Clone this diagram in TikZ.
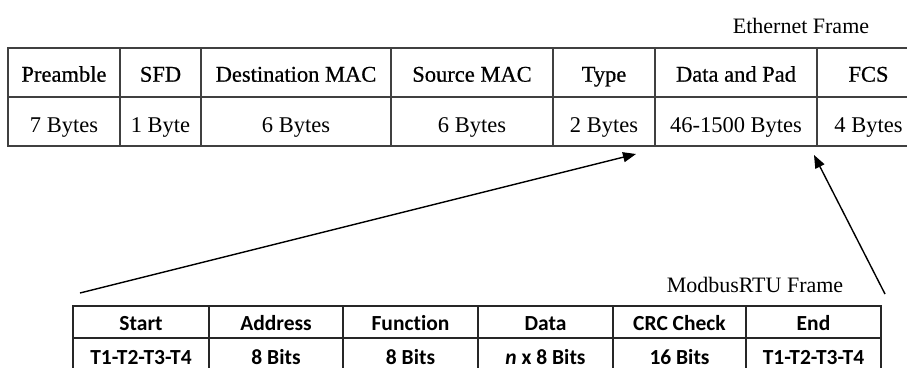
\documentclass[tikz,border=0pt]{standalone}
\usepackage{fontspec}
\setmainfont{Liberation Serif}
\newfontfamily\headfont[FakeBold=0.6]{Liberation Serif}
\newfontfamily\calfont[Ligatures=NoCommon]{Carlito}
\usetikzlibrary{arrows.meta}
\begin{document}
\begin{tikzpicture}[x=1pt,y=-1pt,
  ecell/.style={draw=black!75, line width=1.3pt, minimum height=49pt, inner sep=0pt, outer sep=0pt,
    text depth=0pt},
  ehead/.style={ecell, text height=18.4pt, font=\headfont\fontsize{22.5}{26}\selectfont},
  ebody/.style={ecell, text height=22pt, font=\fontsize{22.5}{26}\selectfont},
  mcell/.style={draw=black!85, line width=1.3pt, minimum height=32pt, inner sep=0pt, outer sep=0pt,
    text depth=0pt, font=\calfont\bfseries\fontsize{21.5}{24}\selectfont},
  mhead/.style={mcell, text height=17.4pt},
  mbody/.style={mcell, text height=20pt},
  lbl/.style={font=\fontsize{22}{26}\selectfont, inner sep=0pt},
  conn/.style={line width=1.4pt, -{Triangle[length=13pt,width=10pt]}}
]
\useasboundingbox (0,0) rectangle (907,367);
\clip (0,0) rectangle (907,367);

% Ethernet frame
\node[lbl] (ethlbl) at (801,26) {Ethernet Frame};
\node[ehead, minimum width=112pt] (pre) at (64,72.5) {Preamble};
\node[ehead, minimum width=81pt] (sfd) at (160.5,72.5) {SFD};
\node[ehead, minimum width=190pt] (dmac) at (296,72.5) {Destination MAC};
\node[ehead, minimum width=162pt] (smac) at (472,72.5) {Source MAC};
\node[ehead, minimum width=102pt] (type) at (604,72.5) {Type};
\node[ehead, minimum width=162pt] (data) at (736,72.5) {Data and Pad};
\node[ehead, minimum width=103pt] (fcs) at (868.5,72.5) {FCS};
\node[ebody, minimum width=112pt] (preb) at (64,121.5) {7 Bytes};
\node[ebody, minimum width=81pt] (sfdb) at (160.5,121.5) {1 Byte};
\node[ebody, minimum width=190pt] (dmacb) at (296,121.5) {6 Bytes};
\node[ebody, minimum width=162pt] (smacb) at (472,121.5) {6 Bytes};
\node[ebody, minimum width=102pt] (typeb) at (604,121.5) {2 Bytes};
\node[ebody, minimum width=162pt] (datab) at (736,121.5) {46-1500 Bytes};
\node[ebody, minimum width=103pt] (fcsb) at (868.5,121.5) {4 Bytes};

% Modbus RTU frame
\node[lbl] (modlbl) at (755,285) {ModbusRTU Frame};
\node[mhead, minimum width=136pt] (start) at (141,322) {Start};
\node[mhead, minimum width=134pt] (addr) at (276,322) {Address};
\node[mhead, minimum width=135pt] (func) at (410.5,322) {Function};
\node[mhead, minimum width=135pt] (mdata) at (545.5,322) {Data};
\node[mhead, minimum width=133pt] (crc) at (679.5,322) {CRC Check};
\node[mhead, minimum width=135pt] (mend) at (813.5,322) {End};
\node[mbody, minimum width=136pt] (startb) at (141,354) {T1-T2-T3-T4};
\node[mbody, minimum width=134pt] (addrb) at (276,354) {8 Bits};
\node[mbody, minimum width=135pt] (funcb) at (410.5,354) {8 Bits};
\node[mbody, minimum width=135pt] (mdatab) at (545.5,354) {{\itshape n} x 8 Bits};
\node[mbody, minimum width=133pt] (crcb) at (679.5,354) {16 Bits};
\node[mbody, minimum width=135pt] (mendb) at (813.5,354) {T1-T2-T3-T4};

% connectors
\coordinate (a1s) at (80,293);
\coordinate (a1e) at (636,154);
\coordinate (a2s) at (885,294);
\coordinate (a2e) at (814,155);
\draw[conn] (a1s) -- (a1e);
\draw[conn] (a2s) -- (a2e);
\end{tikzpicture}
\end{document}
